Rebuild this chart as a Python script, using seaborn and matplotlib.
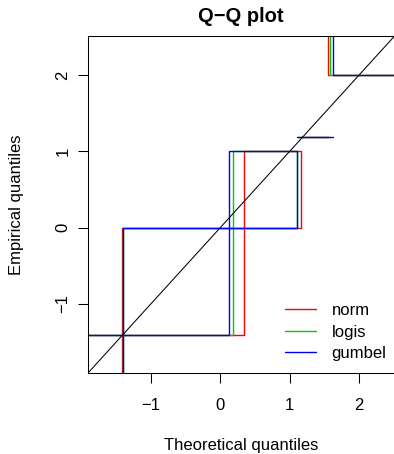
import numpy as np
import pandas as pd
import matplotlib
matplotlib.use("Agg")
import matplotlib.pyplot as plt
import seaborn as sns
from matplotlib.lines import Line2D

sns.set_theme(style="white", rc={"axes.edgecolor": "black", "text.color": "black",
                                 "xtick.color": "black", "ytick.color": "black",
                                 "axes.labelcolor": "black"})
plt.rcParams['font.family'] = ['Liberation Sans', 'DejaVu Sans']

# ---- data ----
distributions = ["norm", "logis", "gumbel"]
colors = ["#FF0000", "#00CD00", "#0000FF"]
# theoretical quantiles (x positions of the vertical edges) per distribution
theo_left = [-1.415, -1.405, -1.40]
theo_mid = [0.34, 0.177, 0.13]
theo_right = [1.16, 1.104, 1.104]
theo_top = [1.553, 1.58, 1.625]
# empirical quantile levels (y)
emp_levels = [-1.40, 0.0, 1.0, 1.183, 2.0]
ticks = [-1, 0, 1, 2]
lims = (-1.904, 2.509)
FAR = 50.0  # stands for +/- infinity (clipped by the axes)

rows = []
for d, l, m, r, t in zip(distributions, theo_left, theo_mid, theo_right, theo_top):
    e0, e1, e2, e3, e4 = emp_levels
    segs = {
        "a": [(-FAR, e0), (m, e0), (m, e2), (r, e2), (r, e1), (l, e1), (l, -FAR)],
        "b": [(r, e3), (t, e3)],
        "c": [(t, FAR), (t, e4), (FAR, e4)],
    }
    for s, pts in segs.items():
        for i, (x, y) in enumerate(pts):
            rows.append({"dist": d, "seg": s, "x": x, "y": y, "i": i})
df = pd.DataFrame(rows)

W, H = 394, 454
fig = plt.figure(figsize=(W / 100, H / 100), dpi=100)
L, R, T, B = 88, 394.6, 36, 373
ax = fig.add_axes([L / W, 1 - B / H, (R - L) / W, (B - T) / H])

sns.lineplot(data=df, x="x", y="y", hue="dist", units="seg", estimator=None,
             sort=False, palette=dict(zip(distributions, colors)),
             hue_order=distributions, linewidth=1.0, ax=ax, legend=False)
ax.axline((0, 0), slope=1, color="black", linewidth=0.75)

ax.set_xlim(lims)
ax.set_ylim(lims)
ax.set_xticks(ticks)
ax.set_yticks(ticks)
ax.set_xlabel("")
ax.set_ylabel("")
for sp in ax.spines.values():
    sp.set_linewidth(0.75)
    sp.set_color("black")
ax.tick_params(axis="both", direction="out", length=7.2, width=0.75,
               labelsize=12, bottom=True, left=True)
ax.tick_params(axis="x", pad=11)
ax.tick_params(axis="y", pad=5.4, labelrotation=90)
for lab in ax.get_yticklabels():
    lab.set_va("center")

fig.text(241 / W, 1 - 22.5 / H, "Q\u2212Q plot", ha="center", va="baseline",
         fontsize=14.5, fontweight="bold")
fig.text(241 / W, 1 - 450.3 / H, "Theoretical quantiles", ha="center",
         va="baseline", fontsize=12)
fig.text(21 / W, 1 - 204.5 / H, "Empirical quantiles", ha="center",
         va="baseline", rotation=90, rotation_mode="anchor", fontsize=12)

handles = [Line2D([], [], color=c, linewidth=1.0) for c in colors]
ax.legend(handles, distributions, loc="center left",
          bbox_to_anchor=(285 / W, 1 - 332 / H), bbox_transform=fig.transFigure,
          frameon=False, borderpad=0, borderaxespad=0, handlelength=1.84,
          handletextpad=0.96, labelspacing=0.38, fontsize=12)

fig.savefig("out.png", dpi=100)
